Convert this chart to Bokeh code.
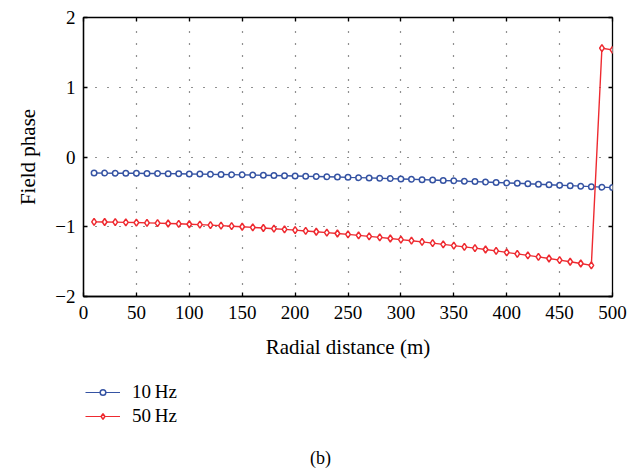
from bokeh.plotting import figure
from bokeh.layouts import column
from bokeh.models import (LinearAxis, FixedTicker, Range1d, Legend, LegendItem, Label)
from bokeh.embed import file_html
from bokeh.resources import INLINE

distance = [10, 20, 30, 40, 50, 60, 70, 80, 90, 100,
            110, 120, 130, 140, 150, 160, 170, 180, 190, 200,
            210, 220, 230, 240, 250, 260, 270, 280, 290, 300,
            310, 320, 330, 340, 350, 360, 370, 380, 390, 400,
            410, 420, 430, 440, 450, 460, 470, 480, 490, 500]

phase_10hz = [-0.230, -0.231, -0.232, -0.233, -0.234, -0.236, -0.237, -0.239, -0.241, -0.243,
              -0.245, -0.248, -0.250, -0.253, -0.256, -0.259, -0.262, -0.265, -0.268, -0.272,
              -0.276, -0.279, -0.283, -0.287, -0.292, -0.296, -0.300, -0.305, -0.310, -0.315,
              -0.320, -0.325, -0.330, -0.336, -0.341, -0.347, -0.353, -0.359, -0.365, -0.371,
              -0.377, -0.384, -0.390, -0.397, -0.404, -0.411, -0.418, -0.425, -0.432, -0.439]

phase_50hz = [-0.930, -0.932, -0.934, -0.937, -0.940, -0.944, -0.948, -0.953, -0.958, -0.964,
              -0.970, -0.977, -0.984, -0.992, -1.000, -1.009, -1.018, -1.028, -1.038, -1.049,
              -1.060, -1.072, -1.084, -1.097, -1.110, -1.124, -1.138, -1.153, -1.168, -1.184,
              -1.200, -1.217, -1.234, -1.252, -1.270, -1.288, -1.306, -1.326, -1.346, -1.368,
              -1.389, -1.410, -1.432, -1.455, -1.478, -1.502, -1.527, -1.553, 1.560, 1.535]

x_ticks = [0, 50, 100, 150, 200, 250, 300, 350, 400, 450, 500]
y_ticks = [-2, -1, 0, 1, 2]
y_tick_labels = {-2: "\u22122", -1: "\u22121", 0: "0", 1: "1", 2: "2"}
series_names = ["10\u2009Hz", "50\u2009Hz"]
caption = "(b)"

FONT = "Liberation Serif"
BLUE = "#3553a3"
RED = "#ee2a30"

p = figure(width=633, height=365, output_backend="svg", toolbar_location=None,
           x_range=Range1d(0, 500), y_range=Range1d(-2, 2),
           min_border_left=83, min_border_right=21, min_border_top=17,
           min_border_bottom=69, outline_line_color="black", outline_line_width=1.3)
p.background_fill_color = "white"
p.border_fill_color = "white"

for ax in (p.xaxis[0], p.yaxis[0]):
    ax.major_tick_in = 4
    ax.major_tick_out = 0
    ax.minor_tick_in = 0
    ax.minor_tick_out = 0
    ax.axis_line_color = "black"
    ax.axis_line_width = 1.3
    ax.major_tick_line_width = 1.3
    ax.major_label_text_font = FONT
    ax.major_label_text_font_size = "19px"
    ax.major_label_text_color = "black"
    ax.axis_label_text_font = FONT
    ax.axis_label_text_font_size = "21px"
    ax.axis_label_text_font_style = "normal"
    ax.axis_label_text_color = "black"

p.xaxis[0].ticker = FixedTicker(ticks=x_ticks)
p.yaxis[0].ticker = FixedTicker(ticks=y_ticks)
p.yaxis[0].major_label_overrides = y_tick_labels
p.xaxis[0].axis_label = "Radial distance (m)"
p.yaxis[0].axis_label = "Field phase"
p.xaxis[0].major_label_standoff = 9
p.xaxis[0].axis_label_standoff = 13
p.yaxis[0].major_label_standoff = 8
p.yaxis[0].axis_label_standoff = 12

top = LinearAxis(ticker=FixedTicker(ticks=x_ticks), major_label_text_font_size="0px",
                 major_tick_in=4, major_tick_out=0, minor_tick_in=0, minor_tick_out=0,
                 axis_line_color=None, major_tick_line_width=1.3)
right = LinearAxis(ticker=FixedTicker(ticks=y_ticks), major_label_text_font_size="0px",
                   major_tick_in=4, major_tick_out=0, minor_tick_in=0, minor_tick_out=0,
                   axis_line_color=None, major_tick_line_width=1.3)
p.add_layout(top, "above")
p.add_layout(right, "right")

p.xgrid.ticker = FixedTicker(ticks=x_ticks)
p.ygrid.ticker = FixedTicker(ticks=y_ticks)
for g in (p.xgrid[0], p.ygrid[0]):
    g.grid_line_color = "#222222"
    g.grid_line_dash = "1 11"
    g.grid_line_width = 1.2

p.line(distance, phase_10hz, line_color=BLUE, line_width=1.4)
p.scatter(distance, phase_10hz, marker="circle", size=5.5, line_color=BLUE,
          fill_color="white", line_width=1.5)
p.line(distance, phase_50hz, line_color=RED, line_width=1.4)
p.scatter(distance, phase_50hz, marker="diamond", size=7, line_color=RED,
          fill_color="white", line_width=1.5)

# legend + caption panel (frame is aligned with the main plot's frame)
q = figure(width=633, height=105, output_backend="svg", toolbar_location=None,
           x_range=Range1d(0, 1), y_range=Range1d(0, 1),
           min_border=0, outline_line_color=None)
q.axis.visible = False
q.grid.visible = False
q.background_fill_color = "white"
q.border_fill_color = "white"

# same series, out of this panel's view; only used to style legend glyphs
ql1 = q.line(distance, phase_10hz, line_color=BLUE, line_width=1.2)
qm1 = q.scatter(distance, phase_10hz, marker="circle", size=5.5, line_color=BLUE,
                fill_color="white", line_width=1.5)
ql2 = q.line(distance, phase_50hz, line_color=RED, line_width=1.2)
qm2 = q.scatter(distance, phase_50hz, marker="diamond", size=7, line_color=RED,
                fill_color="white", line_width=1.5)

legend = Legend(items=[LegendItem(label=series_names[0], renderers=[ql1, qm1]),
                       LegendItem(label=series_names[1], renderers=[ql2, qm2])],
                location=(2, 42), orientation="vertical",
                border_line_color=None, background_fill_alpha=0,
                padding=0, margin=0, spacing=0,
                glyph_width=35, glyph_height=14, label_height=24,
                label_standoff=12, label_text_font=FONT,
                label_text_font_size="19px", label_text_color="black")
q.add_layout(legend, "center")

q.add_layout(Label(x=237, y=13, x_units="screen", y_units="screen", text=caption,
                   text_font=FONT, text_font_size="18px", text_align="center",
                   text_baseline="middle", text_color="black"))

open("out.html", "w").write(file_html(column(p, q, spacing=0), INLINE))
